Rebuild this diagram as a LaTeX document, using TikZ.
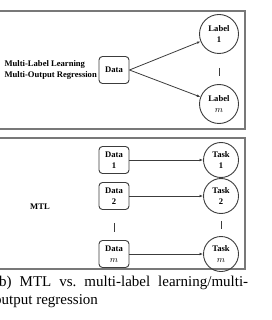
\documentclass[tikz,border=0pt]{standalone}
\usepackage{fontspec}
\setmainfont{Liberation Serif}
\usetikzlibrary{arrows.meta, positioning, calc}
\definecolor{framegray}{RGB}{120,120,120}
\definecolor{linegray}{RGB}{60,60,60}

\begin{document}
\begin{tikzpicture}[x=1pt, y=-1pt, font=\bfseries\fontsize{8.6}{11}\selectfont,
        databox/.style={rectangle, rounded corners=3.5pt, draw=linegray, line width=0.9pt,
                        minimum width=30pt, minimum height=27pt, inner sep=0pt, align=center},
        labelnode/.style={circle, draw=linegray, line width=0.9pt, minimum size=39pt,
                          inner sep=0pt, align=center},
        tasknode/.style={circle, draw=linegray, line width=0.9pt, minimum size=35pt,
                         inner sep=0pt, align=center},
        panel/.style={draw=framegray, line width=1.1pt},
        link/.style={-{Latex[length=3.5pt, width=2.8pt]}, line width=0.8pt, linegray},
        gap/.style={line width=0.7pt, linegray}
    ]
        \useasboundingbox (0,0) rectangle (272,320);
        % panels
        \draw[panel] (-6,11) rectangle (245,129);
        \draw[panel] (-6,138) rectangle (245,269);
        % upper panel
        \node[anchor=west, align=left] (mll) at (1,70) {Multi-Label Learning\\Multi-Output Regression};
        \node[databox] (data) at (114,70) {Data};
        \node[labelnode] (lab1) at (219,34) {Label\\1};
        \node[labelnode] (labm) at (219,104) {Label\\$m$};
        \foreach \n in {lab1,labm}
            \draw[link] (data.east) -- (\n);
        \draw[gap, shorten <=14pt, shorten >=8pt] (lab1) -- (labm);
        % lower panel
        \node (mtl) at (40,207) {MTL};
        \foreach \i/\y/\t in {1/160/1, 2/196/2, m/254/$m$} {
            \node[databox] (d\i) at (114,\y) {Data\\\t};
            \node[tasknode] (t\i) at (221,\y) {Task\\\t};
            \draw[link] (d\i) -- (t\i);
        }
        \draw[gap, shorten <=13pt, shorten >=8pt] (d2) -- (dm);
        \draw[gap, shorten <=7pt, shorten >=7pt] (t2) -- (tm);
        % caption
        \node[anchor=north west, inner sep=0pt, text width=254pt, align=justify,
              font=\mdseries\fontsize{15}{18}\selectfont] (cap) at (-6,276)
            {(b) MTL vs.\ multi-label learning/multi-\linebreak output regression};
    \end{tikzpicture}
\end{document}
